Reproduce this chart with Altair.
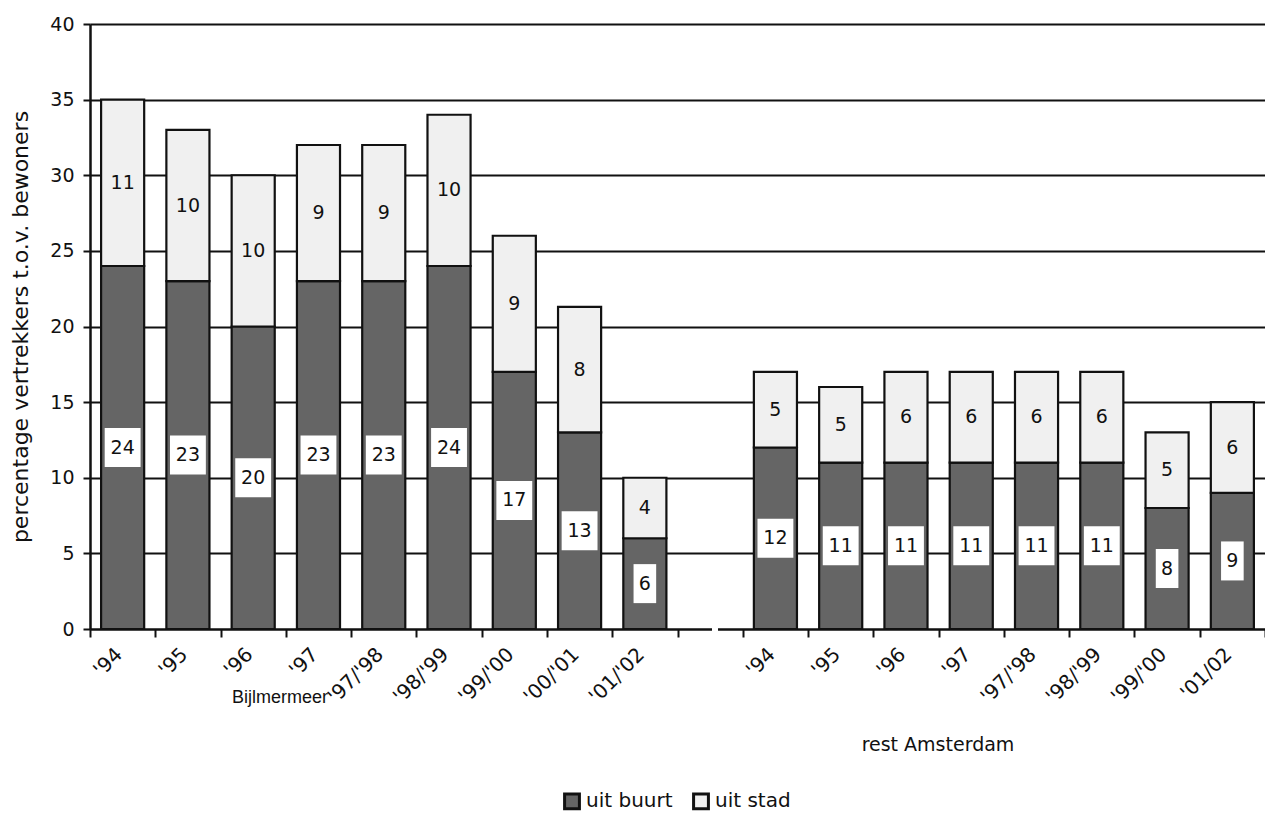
import altair as alt
import pandas as pd

# ---- data ----
group_b = "Bijlmermeer"
group_r = "rest Amsterdam"
periods_b = ["'94", "'95", "'96", "'97", "'97/'98", "'98/'99", "'99/'00", "'00/'01", "'01/'02"]
periods_r = ["'94", "'95", "'96", "'97", "'97/'98", "'98/'99", "'99/'00", "'01/02"]
buurt_b = [24, 23, 20, 23, 23, 24, 17, 13, 6]
stad_b = [11, 10, 10, 9, 9, 10, 9, 8.3, 4]
buurt_r = [12, 11, 11, 11, 11, 11, 8, 9]
stad_r = [5, 5, 6, 6, 6, 6, 5, 6]
series = ["uit buurt", "uit stad"]

rows = []
domain = []
for tag, periods, bu, st in [("B", periods_b, buurt_b, stad_b), ("R", periods_r, buurt_r, stad_r)]:
    for p, b, s in zip(periods, bu, st):
        key = tag + "|" + p
        domain.append(key)
        rows.append(dict(key=key, serie=series[0], val=b, mid=b / 2, order=0,
                         box="wide" if b >= 9.5 else "narrow", lab=str(round(b))))
        rows.append(dict(key=key, serie=series[1], val=s, mid=b + s / 2, order=1,
                         box="wide" if s >= 9.5 else "narrow", lab=str(round(s))))
    if tag == "B":
        domain.append("gap")
df = pd.DataFrame(rows)

W, H = 1175, 605
FONT = "Liberation Sans"
WIDE = "DejaVu Sans"

xscale = alt.Scale(domain=domain, paddingInner=0, paddingOuter=0)
xaxis = alt.Axis(title=None,
                 labelExpr="isString(datum.value) && indexof(datum.value,'|')>=0 ? split(datum.value,'|')[1] : ''",
                 labelAngle=-45, labelAlign="right", labelBaseline="middle",
                 labelOffset=-4, labelPadding=14, labelFont=WIDE, labelFontSize=20,
                 labelColor="#111", tickBand="extent", tickSize=8, tickWidth=2,
                 tickColor="#111", domainColor="#111", domainWidth=2, grid=False)
yaxis = alt.Axis(title="percentage vertrekkers t.o.v. bewoners", values=list(range(0, 41, 5)),
                 grid=True, gridColor="#111", gridWidth=1.8, gridOpacity=1,
                 domainColor="#111", domainWidth=2.5, tickColor="#111", tickWidth=2,
                 tickSize=7, labelFont=WIDE, labelFontSize=19, labelColor="#111",
                 labelPadding=9, titleFont=WIDE, titleFontSize=22, titleFontWeight="normal",
                 titleColor="#111", titlePadding=17)
yscale = alt.Scale(domain=[0, 40], nice=False)

bars = alt.Chart(df).mark_bar(stroke="#111", strokeWidth=2.2, width={"band": 0.66}).encode(
    x=alt.X("key:N", scale=xscale, axis=xaxis),
    y=alt.Y("val:Q", stack="zero", scale=yscale, axis=yaxis),
    color=alt.Color("serie:N", scale=alt.Scale(domain=series, range=["#656565", "#f0f0f0"]),
                    legend=alt.Legend(title=None, orient="none", legendX=472, legendY=767,
                                      direction="horizontal", symbolType="square", symbolSize=220,
                                      symbolStrokeColor="#111", symbolStrokeWidth=3,
                                      labelFont=WIDE, labelFontSize=20, labelColor="#111",
                                      columnPadding=14, labelOffset=4)),
    order=alt.Order("order:Q"),
)

boxes = alt.Chart(df[df.serie == series[0]]).mark_point(filled=True, fill="white", opacity=1, strokeWidth=0).encode(
    x=alt.X("key:N", scale=xscale, axis=xaxis),
    y=alt.Y("mid:Q", scale=yscale, axis=yaxis),
    shape=alt.Shape("box:N", scale=alt.Scale(domain=["wide", "narrow"],
                                             range=["M-0.92,-1L0.92,-1L0.92,1L-0.92,1Z",
                                                    "M-0.58,-1L0.58,-1L0.58,1L-0.58,1Z"]), legend=None),
    size=alt.value(1521),
)

labels = alt.Chart(df).mark_text(font=WIDE, fontSize=19, color="#111", baseline="middle").encode(
    x=alt.X("key:N", scale=xscale, axis=xaxis),
    y=alt.Y("mid:Q", scale=yscale, axis=yaxis),
    text=alt.Text("lab:N"),
)

ann_df = pd.DataFrame({"t": [group_b, group_r]})
ann_b = alt.Chart(ann_df.iloc[[0]]).mark_text(font=FONT, fontSize=18, color="#111").encode(
    x=alt.value(280 - 90), y=alt.value(698 - 24), text="t:N")
ann_r = alt.Chart(ann_df.iloc[[1]]).mark_text(font=WIDE, fontSize=19, color="#111").encode(
    x=alt.value(938 - 90), y=alt.value(745 - 24), text="t:N")

brk = alt.Chart(pd.DataFrame({"a": [0]})).mark_rule(color="white", strokeWidth=4).encode(
    x=alt.value(712 - 90), x2=alt.value(718 - 90), y=alt.value(H))

chart = alt.layer(bars, boxes, labels, ann_b, ann_r, brk).properties(
    width=W, height=H,
    autosize=alt.AutoSizeParams(type="none"),
    padding={"left": 90, "top": 24, "right": 0, "bottom": 204},
    background="white",
).configure_view(strokeWidth=0)

chart.save("out.html", embed_options={"renderer": "svg", "actions": False})
